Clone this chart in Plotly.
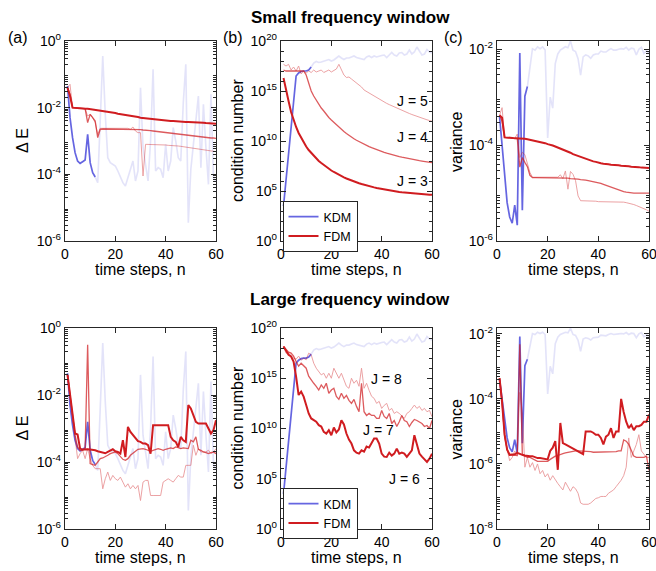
import plotly.graph_objects as go

W, H = 656, 571

# ---------------- data (log10 values) ----------------
n_all = list(range(1, 61))
n_head = list(range(1, 13))
n_tail = list(range(12, 61))

# KDM (shared by both frequency windows)
kdm_dE_head = [-1.35, -2.3, -2.9, -3.35, -3.6, -3.67, -3.62, -3.57, -2.8, -3.65, -3.95, -4.08]
kdm_dE_tail = [-4.08, -4.25, -2.4, -0.45, -2.2, -3.5, -3.65, -3.7, -3.75, -3.9, -4.1, -4.25, -4.35,
               -4.1, -3.8, -3.6, -4.2, -3.9, -1.4, -3.2, -3.7, -4.2, -3.0, -0.85, -3.9, -3.8, -3.85,
               -4.1, -3.1, -3.9, -3.6, -2.6, -3.0, -3.5, -3.6, -1.85, -0.7, -5.45, -3.85, -3.1, -2.4,
               -1.65, -3.8, -1.9, -3.2, -4.3, -1.6, -4.1, -4.2]
kdm_cn_head = [3.5, 6.1, 8.7, 11.3, 13.9, 16.5, 16.8, 16.95, 17.0, 17.0, 17.1, 17.4]
kdm_cn_tail = [17.4, 17.8, 17.95, 17.85, 17.9, 18.0, 18.1, 18.15, 18.0, 18.1, 18.3, 18.5, 18.3, 18.15,
               18.3, 18.3, 18.4, 18.5, 18.35, 18.3, 18.2, 18.15, 18.4, 18.5, 18.35, 18.5, 18.4, 18.5,
               18.55, 18.6, 18.35, 18.6, 18.85, 18.6, 18.5, 18.8, 18.85, 18.6, 18.7, 19.1, 18.7, 18.9,
               19.4, 19.0, 18.6, 18.7, 19.15, 18.9, 18.8]
kdm_var_head = [-3.4, -4.05, -4.74, -5.2, -5.5, -5.63, -5.25, -5.67, -2.08, -5.36, -2.98, -2.78]
kdm_var_tail = [-2.78, -2.37, -1.99, -2.02, -1.95, -1.99, -1.95, -2.02, -3.85, -3.0, -3.23, -2.3, -2.1,
                -2.02, -1.98, -1.95, -1.97, -1.83, -2.02, -2.05, -2.2, -2.54, -2.16, -2.12, -2.14,
                -2.19, -2.12, -2.1, -2.1, -2.04, -2.06, -2.06, -2.02, -1.99, -2.02, -2.02, -2.0, -1.99,
                -2.0, -1.96, -2.02, -1.98, -1.99, -2.12, -2.0, -1.96, -2.09, -2.03, -2.08]

# Small frequency window, FDM J = 3, 4, 5
dE_small_J3 = [-1.4, -1.65, -2.0, -2.01, -2.01, -2.02, -2.02, -2.03, -2.03, -2.04,
               -2.05, -2.06, -2.07, -2.08, -2.09, -2.10, -2.12, -2.13, -2.15, -2.16,
               -2.18, -2.19, -2.21, -2.22, -2.23, -2.25, -2.26, -2.27, -2.28, -2.30,
               -2.31, -2.32, -2.33, -2.34, -2.35, -2.36, -2.37, -2.37, -2.38, -2.39,
               -2.39, -2.40, -2.40, -2.41, -2.41, -2.42, -2.42, -2.43, -2.43, -2.43,
               -2.44, -2.44, -2.45, -2.45, -2.45, -2.46, -2.46, -2.47, -2.47, -2.48]
dE_small_J4 = [-1.4, -1.6, -2.0, -2.01, -2.01, -2.02, -2.02, -2.03, -2.45, -2.2,
               -2.3, -2.4, -2.9, -2.65, -2.64, -2.64, -2.64, -2.64, -2.64, -2.64,
               -2.64, -2.65, -2.65, -2.65, -2.65, -2.65, -2.65, -2.66, -2.66, -2.66,
               -2.67, -2.67, -2.68, -2.69, -2.70, -2.71, -2.71, -2.72, -2.73, -2.74,
               -2.75, -2.76, -2.77, -2.78, -2.79, -2.80, -2.81, -2.82, -2.83, -2.84,
               -2.85, -2.86, -2.87, -2.88, -2.88, -2.89, -2.90, -2.91, -2.91, -2.92]
dE_small_J5 = [-1.4, -1.3, -2.0, -2.01, -2.02, -2.02, -2.03, -2.03, -2.25, -2.2,
               -2.3, -2.45, -2.8, -2.62, -2.62, -2.62, -2.62, -2.62, -2.62, -2.62,
               -2.62, -2.62, -2.62, -2.62, -2.62, -2.65, -2.58, -2.7, -2.75, -2.75,
               -4.05, -3.1, -3.10, -3.10, -3.11, -3.11, -3.11, -3.12, -3.12, -3.12,
               -3.13, -3.13, -3.14, -3.14, -3.15, -3.16, -3.17, -3.18, -3.19, -3.20,
               -3.21, -3.22, -3.23, -3.24, -3.25, -3.27, -3.28, -3.29, -3.31, -3.32]
cn_small_J3 = [16.3, 15.3, 14.0, 12.9, 12.1, 11.4, 10.8, 10.3, 9.85, 9.45,
               9.1, 8.8, 8.5, 8.25, 8.0, 7.8, 7.6, 7.4, 7.2, 7.05,
               6.9, 6.75, 6.6, 6.48, 6.36, 6.25, 6.14, 6.04, 5.95, 5.86,
               5.78, 5.7, 5.62, 5.55, 5.48, 5.42, 5.36, 5.3, 5.25, 5.2,
               5.15, 5.1, 5.06, 5.02, 4.98, 4.94, 4.91, 4.88, 4.85, 4.82,
               4.8, 4.77, 4.75, 4.73, 4.71, 4.69, 4.67, 4.65, 4.63, 4.62]
cn_small_J4 = [17.1, 17.0, 17.0, 17.0, 17.0, 17.0, 17.0, 17.0, 17.0, 16.6,
               15.7, 15.0, 14.5, 14.05, 13.67, 13.3, 13.0, 12.65, 12.35, 12.1,
               11.85, 11.6, 11.35, 11.15, 10.95, 10.75, 10.55, 10.38, 10.22, 10.07,
               9.93, 9.8, 9.67, 9.55, 9.44, 9.33, 9.22, 9.12, 9.03, 8.94,
               8.86, 8.78, 8.7, 8.63, 8.56, 8.5, 8.44, 8.38, 8.32, 8.27,
               8.22, 8.17, 8.12, 8.08, 8.03, 7.99, 7.95, 7.91, 7.87, 7.83]
cn_small_J5 = [17.67, 17.5, 17.67, 17.1, 17.4, 17.0, 17.5, 16.7, 17.0, 16.8,
               17.0, 16.85, 17.1, 16.9, 17.0, 17.1, 16.85, 17.0, 17.1, 16.9,
               17.05, 17.2, 17.67, 17.1, 16.6, 16.35, 16.4, 16.2, 16.0, 15.8,
               15.6, 15.4, 15.1, 14.95, 14.8, 14.65, 14.45, 14.3, 14.15, 14.0,
               13.88, 13.76, 13.64, 13.52, 13.4, 13.28, 13.17, 13.06, 12.95, 12.85,
               12.75, 12.65, 12.55, 12.46, 12.37, 12.28, 12.2, 12.12, 12.05, 11.97]
var_small_J3 = [-3.38, -3.43, -3.84, -3.84, -3.85, -3.85, -3.86, -3.86, -3.86, -3.87,
                -3.87, -3.88, -3.89, -3.9, -3.91, -3.92, -3.93, -3.95, -3.96, -3.98,
                -3.99, -4.01, -4.03, -4.05, -4.07, -4.09, -4.12, -4.14, -4.16, -4.19,
                -4.21, -4.23, -4.25, -4.27, -4.29, -4.31, -4.33, -4.34, -4.35, -4.37,
                -4.38, -4.39, -4.39, -4.4, -4.41, -4.41, -4.42, -4.42, -4.43, -4.43,
                -4.44, -4.44, -4.45, -4.45, -4.46, -4.46, -4.47, -4.47, -4.48, -4.48]
var_small_J4 = [-3.38, -3.5, -3.84, -3.84, -3.85, -3.85, -3.86, -3.86, -4.46, -4.26,
                -4.36, -4.45, -4.63, -4.68, -4.68, -4.68, -4.68, -4.68, -4.68, -4.68,
                -4.68, -4.68, -4.68, -4.68, -4.68, -4.69, -4.69, -4.69, -4.7, -4.7,
                -4.71, -4.71, -4.72, -4.72, -4.73, -4.74, -4.75, -4.76, -4.77, -4.78,
                -4.8, -4.82, -4.84, -4.86, -4.88, -4.9, -4.92, -4.94, -4.96, -4.97,
                -4.98, -4.99, -5.0, -5.0, -5.0, -5.0, -5.0, -5.0, -5.0, -5.0]
var_small_J5 = [-3.38, -3.22, -3.84, -3.85, -3.85, -3.86, -3.86, -3.77, -4.26, -4.15,
                -4.2, -4.39, -4.57, -4.67, -4.67, -4.67, -4.67, -4.66, -4.67, -4.67,
                -4.67, -4.66, -4.67, -4.67, -4.62, -4.7, -4.54, -4.92, -4.55, -4.61,
                -4.74, -5.06, -5.16, -5.16, -5.16, -5.16, -5.17, -5.17, -5.17, -5.18,
                -5.18, -5.18, -5.18, -5.18, -5.18, -5.18, -5.19, -5.19, -5.19, -5.19,
                -5.2, -5.21, -5.22, -5.24, -5.26, -5.28, -5.3, -5.32, -5.35, -5.38]

# Large frequency window, FDM J = 6, 7, 8
dE_large_J6 = [-1.4, -2.0, -2.7, -3.15, -3.18, -3.6, -3.63, -3.62, -3.62, -3.63,
               -3.63, -3.65, -3.68, -3.7, -3.72, -3.74, -3.7, -3.65, -3.62, -3.68,
               -3.7, -3.75, -3.35, -3.85, -2.95, -3.1, -3.2, -3.3, -3.38, -3.4,
               -3.45, -3.45, -3.5, -3.75, -2.9, -2.9, -2.9, -2.9, -2.9, -2.9,
               -2.9, -3.25, -3.35, -3.4, -3.55, -3.25, -3.35, -3.4, -2.3, -2.4,
               -2.6, -2.8, -2.85, -2.85, -2.85, -2.85, -3.0, -3.15, -3.05, -2.75]
dE_large_J7 = [-1.4, -2.0, -2.7, -3.2, -3.55, -3.65, -3.65, -3.6, -0.5, -4.05,
               -4.08, -4.1, -4.0, -3.9, -3.88, -3.85, -3.8, -3.75, -3.72, -3.7,
               -3.75, -3.85, -3.92, -3.95, -3.9, -3.8, -3.75, -3.68, -3.62, -3.6,
               -3.6, -3.62, -3.65, -3.68, -3.65, -3.62, -3.6, -3.62, -3.65, -3.62,
               -3.6, -3.58, -3.6, -3.55, -3.57, -3.6, -3.58, -3.6, -3.6, -3.35,
               -3.4, -3.25, -3.62, -3.65, -3.7, -3.72, -3.75, -3.72, -3.7, -3.75]
dE_large_J8 = [-1.4, -2.0, -2.7, -3.25, -3.9, -3.75, -3.65, -3.9, -3.6, -3.9,
               -4.1, -4.2, -4.2, -4.2, -4.8, -4.5, -4.3, -4.55, -4.4, -4.5,
               -4.55, -4.45, -4.6, -4.75, -4.65, -4.8, -4.7, -4.8, -4.7, -5.15,
               -4.6, -4.55, -4.55, -5.0, -5.0, -5.0, -5.0, -5.0, -4.6, -4.55,
               -4.5, -4.55, -4.6, -4.5, -4.4, -4.45, -4.45, -4.1, -4.1, -4.1,
               -3.5, -3.8, -3.6, -3.7, -3.7, -3.7, -3.65, -3.75, -3.7, -3.6]
cn_large_J6 = [18.17, 17.67, 17.33, 17.17, 16.67, 15.17, 13.33, 13.67, 13.17, 12.33,
               11.5, 11.0, 10.8, 10.67, 10.33, 10.2, 9.67, 9.5, 9.83, 9.33,
               10.1, 9.6, 9.9, 10.83, 10.4, 9.5, 8.9, 8.5, 7.83, 7.6,
               7.5, 7.83, 7.7, 8.2, 8.1, 8.5, 9.0, 9.0, 8.5, 7.5,
               7.2, 7.17, 7.6, 7.3, 7.5, 8.0, 7.5, 7.6, 7.5, 7.17,
               7.5, 7.83, 9.33, 8.3, 7.5, 7.2, 6.9, 6.67, 7.0, 7.5]
cn_large_J7 = [18.17, 17.9, 17.6, 17.5, 17.2, 16.67, 16.2, 16.5, 16.2, 16.0,
               15.2, 14.8, 14.5, 14.2, 13.83, 14.33, 14.0, 14.5, 13.5, 13.83,
               14.0, 13.2, 12.9, 13.5, 13.0, 13.3, 12.8, 12.5, 12.9, 12.2,
               11.67, 14.5, 11.67, 11.3, 11.5, 11.3, 11.3, 11.0, 11.0, 11.8,
               11.2, 11.0, 11.5, 10.5, 10.8, 10.2, 10.67, 11.3, 10.8, 10.67,
               10.2, 10.6, 10.9, 10.8, 10.67, 10.5, 10.2, 10.3, 10.0, 10.8]
cn_large_J8 = [18.17, 17.5, 17.5, 17.2, 17.0, 16.9, 17.2, 16.8, 17.0, 16.83,
               17.5, 17.33, 16.5, 16.0, 15.67, 15.33, 15.5, 15.0, 15.5, 15.0,
               16.0, 15.5, 15.0, 15.5, 14.8, 14.2, 14.0, 15.0, 14.5, 14.8,
               14.2, 16.0, 14.0, 14.5, 13.8, 13.2, 13.0, 12.5, 12.7, 12.0,
               12.3, 12.5, 11.8, 12.0, 11.5, 11.67, 11.5, 11.2, 11.0, 11.5,
               11.67, 12.0, 12.33, 12.0, 12.2, 11.8, 12.0, 11.67, 11.8, 11.17]
var_large_J6 = [-3.36, -4.1, -5.1, -5.56, -5.72, -5.72, -5.7, -5.66, -5.7, -5.72,
                -5.74, -5.76, -5.76, -5.76, -5.8, -5.82, -5.82, -5.84, -5.84, -5.86,
                -5.6, -5.5, -5.3, -6.18, -4.74, -5.36, -5.4, -5.44, -5.5, -5.54,
                -5.56, -5.6, -5.64, -5.7, -5.0, -5.0, -5.0, -5.04, -5.1, -5.1,
                -5.2, -5.4, -5.16, -5.1, -4.9, -5.2, -5.0, -5.0, -4.0, -4.4,
                -4.7, -4.9, -4.8, -4.96, -4.84, -4.84, -4.8, -4.7, -4.7, -4.48]
var_large_J7 = [-3.36, -4.1, -5.1, -5.56, -5.72, -5.72, -5.74, -5.74, -2.32, -5.72,
                -5.76, -5.8, -5.8, -5.84, -5.9, -5.92, -5.92, -5.92, -5.92, -5.92,
                -5.86, -5.8, -5.76, -5.74, -5.7, -5.68, -5.66, -5.64, -5.62, -5.6,
                -5.6, -5.6, -5.6, -5.6, -5.62, -5.62, -5.62, -5.64, -5.64, -5.62,
                -5.62, -5.64, -5.64, -5.64, -5.64, -5.64, -5.62, -5.6, -5.6, -5.26,
                -5.3, -5.4, -5.6, -5.76, -5.8, -5.8, -5.8, -5.8, -5.76, -6.2]
var_large_J8 = [-3.36, -4.1, -5.2, -5.6, -5.9, -5.8, -5.6, -5.7, -3.8, -4.4,
                -6.1, -5.8, -6.1, -5.96, -6.2, -6.0, -6.3, -6.2, -6.4, -6.3,
                -6.5, -6.36, -6.5, -6.6, -6.7, -6.8, -6.56, -6.7, -6.84, -6.7,
                -6.76, -6.9, -7.2, -7.24, -7.24, -7.24, -7.2, -7.14, -7.06, -7.04,
                -7.0, -7.0, -7.0, -6.9, -6.84, -6.8, -6.7, -6.6, -6.5, -6.36,
                -6.1, -5.2, -5.8, -5.6, -5.4, -5.1, -5.6, -5.7, -5.8, -5.8]

# ---------------- styling ----------------
FONT = "Liberation Sans, Arial, Helvetica, sans-serif"
AX = "#262626"
BLUE = "rgb(85,85,222)"
RED = "rgb(208,28,32)"


def pw(arr):
    return [10 ** v for v in arr]


def fx(px):   # page pixel x -> paper fraction
    return px / W


def fy(py):   # page pixel y -> paper fraction
    return 1 - py / H


cols = [(65, 216), (281, 432), (497, 649)]
rows = [(41, 241), (328, 529)]

fig = go.Figure()

panels = [
    (0, 0, kdm_dE_head, kdm_dE_tail, dE_small_J3, dE_small_J4, dE_small_J5, [-6, 0], [0, -2, -4, -6]),
    (0, 1, kdm_cn_head, kdm_cn_tail, cn_small_J3, cn_small_J4, cn_small_J5, [0, 20], [0, 5, 10, 15, 20]),
    (0, 2, kdm_var_head, kdm_var_tail, var_small_J3, var_small_J4, var_small_J5, [-6, -1.83], [-2, -4, -6]),
    (1, 0, kdm_dE_head, kdm_dE_tail, dE_large_J6, dE_large_J7, dE_large_J8, [-6, 0], [0, -2, -4, -6]),
    (1, 1, kdm_cn_head, kdm_cn_tail, cn_large_J6, cn_large_J7, cn_large_J8, [0, 20], [0, 5, 10, 15, 20]),
    (1, 2, kdm_var_head, kdm_var_tail, var_large_J6, var_large_J7, var_large_J8, [-8, -1.82], [-2, -4, -6, -8]),
]

layout_axes = {}
for i, (r, c, kh, kt, j1, j2, j3, yr, tks) in enumerate(panels):
    k = i + 1
    xa = "x" if k == 1 else f"x{k}"
    ya = "y" if k == 1 else f"y{k}"
    leg = "legend" if r == 0 else "legend2"
    show = (c == 1)

    fig.add_trace(go.Scatter(x=n_tail[:len(kt)], y=pw(kt), mode="lines", xaxis=xa, yaxis=ya,
                             line=dict(color=BLUE, width=1.6), opacity=0.16,
                             showlegend=False, hoverinfo="skip"))
    fig.add_trace(go.Scatter(x=n_head[:len(kh)], y=pw(kh), mode="lines", xaxis=xa, yaxis=ya,
                             line=dict(color=BLUE, width=1.7), opacity=0.9,
                             name="KDM", legend=leg, showlegend=show))
    fig.add_trace(go.Scatter(x=n_all[:len(j3)], y=pw(j3), mode="lines", xaxis=xa, yaxis=ya,
                             line=dict(color=RED, width=0.9), opacity=0.45,
                             showlegend=False, hoverinfo="skip"))
    fig.add_trace(go.Scatter(x=n_all[:len(j2)], y=pw(j2), mode="lines", xaxis=xa, yaxis=ya,
                             line=dict(color=RED, width=1.3), opacity=0.72,
                             showlegend=False, hoverinfo="skip"))
    fig.add_trace(go.Scatter(x=n_all[:len(j1)], y=pw(j1), mode="lines", xaxis=xa, yaxis=ya,
                             line=dict(color=RED, width=2.0), opacity=1.0,
                             name="FDM", legend=leg, showlegend=show))

    x0, x1 = cols[c]
    y0, y1 = rows[r]
    layout_axes["xaxis" if k == 1 else f"xaxis{k}"] = dict(
        domain=[fx(x0), fx(x1)], anchor=ya, range=[0, 60], tickvals=[0, 20, 40, 60],
        ticks="inside", ticklen=5, tickwidth=1, tickcolor=AX, showline=True, linecolor=AX,
        linewidth=1.3, mirror="ticks", showgrid=False, zeroline=False, automargin=False,
        ticklabeloverflow="allow",
        tickfont=dict(size=14, color="black", family=FONT))
    lo, hi = yr
    if c == 1:
        minor_vals = [10.0 ** e for e in range(0, 21) if e % 5 != 0]
    else:
        minor_vals = [m * 10.0 ** e for e in range(int(lo), 0) for m in range(2, 10)
                      if m * 10.0 ** e < 10 ** hi]
    layout_axes["yaxis" if k == 1 else f"yaxis{k}"] = dict(
        domain=[fy(y1), fy(y0)], anchor=xa, type="log", range=[lo, hi],
        tickvals=[10.0 ** t for t in tks],
        ticktext=[f"10<sup>{t}</sup>" for t in tks],
        ticks="inside", ticklen=5, tickwidth=1, tickcolor=AX, showline=True, linecolor=AX,
        linewidth=1.3, mirror="ticks", showgrid=False, zeroline=False, automargin=False,
        ticklabeloverflow="allow",
        tickfont=dict(size=14, color="black", family=FONT),
        minor=dict(tickvals=minor_vals, ticks="inside", ticklen=2.5, tickcolor=AX, showgrid=False))

fig.update_layout(**layout_axes)

ann = []


def add_text(x, y, text, size=15, bold=False, angle=0, xanchor="center"):
    ann.append(dict(x=fx(x), y=fy(y), xref="paper", yref="paper",
                    text=(f"<b>{text}</b>" if bold else text),
                    showarrow=False, textangle=angle, xanchor=xanchor, yanchor="middle",
                    font=dict(size=size, color="black", family=FONT)))


add_text(350, 18, "Small frequency window", size=17, bold=True)
add_text(350, 299, "Large frequency window", size=17, bold=True)
add_text(18, 38, "(a)", size=16)
add_text(233, 38, "(b)", size=16)
add_text(454, 38, "(c)", size=16)

ylabels = [(22, "Δ E"), (237, "condition number"), (456, "variance")]
for (r0, r1), tyy in zip(rows, [269, 557]):
    for (x0, x1), (lx, lab) in zip(cols, ylabels):
        add_text((x0 + x1) / 2, tyy, "time steps, n", size=16)
        add_text(lx, (r0 + r1) / 2, lab, size=16, angle=-90)

j_labels_top = [("J = 5", 59.4, 14.0), ("J = 4", 59.4, 10.4), ("J = 3", 59.4, 6.0)]
j_labels_bot = [("J = 8", 48.8, 14.93), ("J = 7", 45.5, 9.83), ("J = 6", 56.0, 4.93)]
for (t, xv, yv) in j_labels_top:
    ann.append(dict(x=xv, y=yv, xref="x2", yref="y2", text=t, showarrow=False, xanchor="right",
                    yanchor="middle", font=dict(size=14, color="black", family=FONT)))
for (t, xv, yv) in j_labels_bot:
    ann.append(dict(x=xv, y=yv, xref="x5", yref="y5", text=t, showarrow=False, xanchor="right",
                    yanchor="middle", font=dict(size=14, color="black", family=FONT)))

leg_common = dict(xanchor="left", yanchor="top", bgcolor="white", bordercolor=AX, borderwidth=1,
                  font=dict(size=12.5, color="black", family=FONT), tracegroupgap=0, itemwidth=30)
fig.update_layout(
    width=W, height=H, margin=dict(l=0, r=0, t=0, b=0, pad=0, autoexpand=False),
    paper_bgcolor="white", plot_bgcolor="white",
    font=dict(family=FONT, size=14, color="black"),
    annotations=ann,
    legend=dict(x=fx(282.5), y=fy(201), **leg_common),
    legend2=dict(x=fx(282.5), y=fy(488), **leg_common),
)

fig.write_html(
    "out.html",
    config={"displayModeBar": False},
    post_script="document.body.style.margin='0';document.body.style.overflow='hidden';",
)
